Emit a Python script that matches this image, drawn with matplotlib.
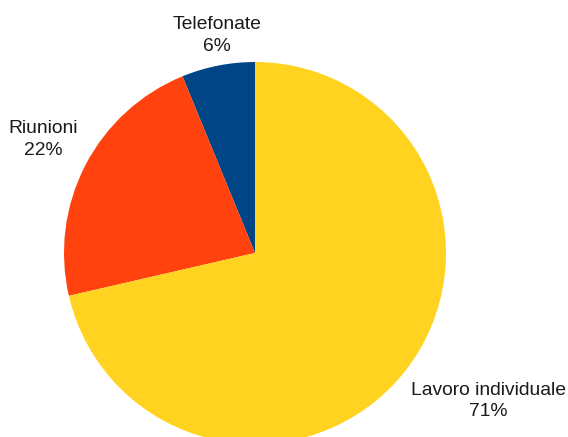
import matplotlib
matplotlib.use('Agg')
import matplotlib.pyplot as plt

# dati del grafico a torta
categorie = ['Telefonate', 'Riunioni', 'Lavoro individuale']
valori = [6.2, 22.4, 71.4]
colori = ['#004586', '#ff420e', '#ffd320']

# posizione delle etichette (in unità di raggio, rispetto al centro)
pos_etichette = [(-0.199, 1.139), (-1.107, 0.594), (1.224, -0.775)]

plt.rcParams['font.family'] = ['Liberation Sans', 'DejaVu Sans']

fig = plt.figure(figsize=(5.68, 4.37), dpi=100)
# assi quadrati che contengono esattamente il cerchio
ax = fig.add_axes([64 / 568, -7 / 437, 382 / 568, 382 / 437])

wedges, _ = ax.pie(valori, colors=colori, startangle=90, counterclock=True,
                   radius=1, wedgeprops={'linewidth': 0})
for w in wedges:
    w.set_clip_on(False)

totale = sum(valori)
for nome, v, (x, y) in zip(categorie, valori, pos_etichette):
    ax.text(x, y, f'{nome}\n{round(v / totale * 100)}%', ha='center', va='center',
            fontsize=13.9, linespacing=1.38, color='#1a1a1a', clip_on=False)

ax.set_xlim(-1, 1)
ax.set_ylim(-1, 1)
ax.set_aspect('equal')
ax.axis('off')

fig.savefig('out.png', dpi=100)
